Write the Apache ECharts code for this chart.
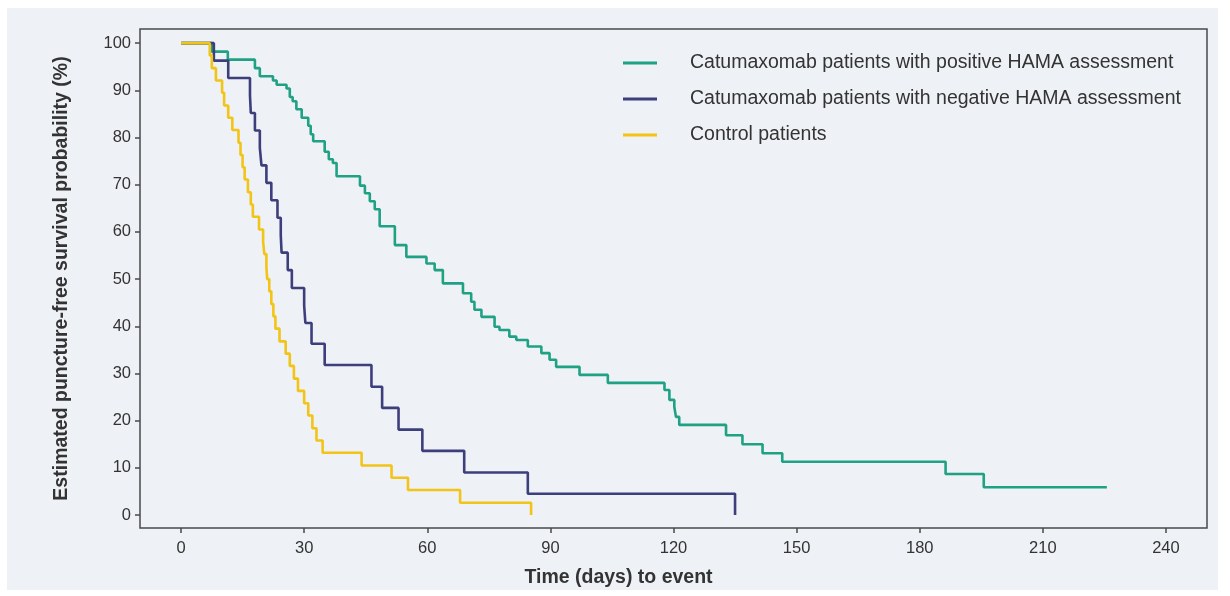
<!DOCTYPE html>
<html>
<head>
<meta charset="utf-8">
<script src="https://cdn.jsdelivr.net/npm/echarts@6/dist/echarts.min.js"></script>
<style>
  html, body { margin: 0; padding: 0; background: #ffffff; }
  #chart { width: 1230px; height: 596px; }
</style>
</head>
<body>
<div id="chart"></div>
<script>
// Kaplan–Meier step curves: each day is an event time, each value the survival (%) just after it.
const seriesNames = [
  'Catumaxomab patients with positive HAMA assessment',
  'Catumaxomab patients with negative HAMA assessment',
  'Control patients'
];

const positiveDays = [0, 7.5, 11.4, 18, 19.2, 22.4, 23.3, 25.7, 26.5, 27.2, 28.1, 29.4, 31, 31.6, 32.2, 35, 36, 37, 37.9,
  43.6, 44.8, 46, 47.2, 48.4, 52.1, 54.9, 59.8, 61.8, 63.8, 68.7, 70.7, 71.5, 73.2, 76.4, 77.6, 80, 81.7, 84.5,
  87.8, 89.8, 91.4, 97.1, 104, 117.8, 119, 120.2, 120.6, 121.4, 132.8, 136.8, 141.7, 146.5, 186.3, 195.6, 225.6];
const positiveSurv = [100, 98.2, 96.5, 94.7, 93.0, 92.1, 91.2, 90.4, 88.6, 87.7, 86.0, 84.2, 82.5, 80.7, 79.2, 77.0, 75.4, 74.6, 71.8,
  69.8, 68.2, 66.5, 64.8, 61.2, 57.2, 54.7, 53.3, 51.9, 49.1, 47.0, 45.2, 43.5, 42.0, 39.9, 39.2, 37.8, 37.1, 35.7,
  34.3, 32.9, 31.4, 29.7, 28.0, 26.5, 24.4, 22.9, 20.8, 19.1, 16.9, 15.0, 13.1, 11.3, 8.7, 5.9, 5.9];

const negativeDays = [0, 8, 11.5, 16.8, 17, 18, 19.2, 19.6, 20.8, 22, 23.5, 24.3, 24.5, 26, 27, 30, 30.3, 31.8, 35,
  46.4, 49, 53, 58.8, 69, 84.5, 135];
const negativeSurv = [100, 96.3, 92.6, 88.9, 85.2, 81.5, 77.8, 74.1, 70.4, 66.7, 63.0, 59.3, 55.6, 51.9, 48.1, 44.4, 40.7, 36.3, 31.8,
  27.2, 22.7, 18.1, 13.6, 9.0, 4.5, 0];

const controlDays = [0, 7, 7.5, 8.5, 10, 10.5, 11.5, 12.5, 14, 14.5, 15, 15.5, 16.3, 17, 17.5, 19, 20, 20.3, 20.8, 21,
  21.5, 22, 22.5, 23, 24, 25.5, 26.5, 27.5, 28.5, 30, 31, 32, 33, 34.5, 44, 51.3, 55.3, 68, 85.3];
const controlSurv = [100, 97.4, 94.7, 92.1, 89.5, 86.8, 84.2, 81.6, 78.9, 76.3, 73.7, 71.1, 68.4, 65.8, 63.2, 60.5, 57.9, 55.3, 52.6, 50.0,
  47.4, 44.7, 42.1, 39.5, 36.8, 34.2, 31.6, 28.9, 26.3, 23.7, 21.1, 18.4, 15.8, 13.2, 10.5, 7.9, 5.3, 2.6, 0];

const xTicks = [0, 30, 60, 90, 120, 150, 180, 210, 240];
const yTicks = [0, 10, 20, 30, 40, 50, 60, 70, 80, 90, 100];

const colors = ['#1fa184', '#3d3e7c', '#f2c417'];

const toPairs = (days, vals) => days.map((d, i) => [d, vals[i]]);
const curves = [
  toPairs(positiveDays, positiveSurv),
  toPairs(negativeDays, negativeSurv),
  toPairs(controlDays, controlSurv)
];

const font = 'Liberation Sans, Arial, Helvetica, sans-serif';
const frameColor = '#4a4a4a';
const chart = echarts.init(document.getElementById('chart'), null, { renderer: 'canvas' });

chart.setOption({
  animation: false,
  backgroundColor: '#ffffff',
  graphic: [{
    type: 'rect',
    z: -10,
    silent: true,
    shape: { x: 7, y: 8, width: 1211, height: 582 },
    style: { fill: '#eef1f5' }
  }],
  grid: {
    left: 140, right: 23, top: 29, bottom: 68,
    show: true,
    borderColor: frameColor,
    borderWidth: 1.5,
    backgroundColor: 'transparent'
  },
  legend: {
    orient: 'vertical',
    left: 618,
    top: 48,
    itemWidth: 34,
    itemHeight: 3,
    itemGap: 16,
    icon: 'rect',
    data: seriesNames,
    textStyle: { fontFamily: font, fontSize: 19.5, color: '#333333', padding: [0, 0, 0, 28] }
  },
  xAxis: {
    type: 'value',
    min: -10,
    max: 250,
    name: 'Time (days) to event',
    nameLocation: 'middle',
    nameGap: 40,
    // title sits left of the frame's centre, under the 90–120 day span
    nameTextStyle: { fontFamily: font, fontSize: 19.5, fontWeight: 'bold', color: '#333333', padding: [0, 110, 0, 0] },
    axisLine: { show: false, onZero: false },
    splitLine: { show: false },
    axisTick: { show: true, customValues: xTicks, length: 5, lineStyle: { color: frameColor, width: 1.5 } },
    axisLabel: { customValues: xTicks, fontFamily: font, fontSize: 16.5, color: '#333333', margin: 12 }
  },
  yAxis: {
    type: 'value',
    min: -2.75,
    max: 103,
    name: 'Estimated puncture-free survival probability (%)',
    nameLocation: 'middle',
    nameGap: 68,
    nameTextStyle: { fontFamily: font, fontSize: 19.5, fontWeight: 'bold', color: '#333333' },
    axisLine: { show: false, onZero: false },
    splitLine: { show: false },
    axisTick: { show: true, customValues: yTicks, length: 5, lineStyle: { color: frameColor, width: 1.5 } },
    axisLabel: { customValues: yTicks, fontFamily: font, fontSize: 16.5, color: '#333333', margin: 9 }
  },
  series: curves.map((data, i) => ({
    name: seriesNames[i],
    type: 'line',
    step: 'end',
    data: data,
    showSymbol: false,
    symbol: 'none',
    z: 2 + i,
    lineStyle: { color: colors[i], width: 2.6 },
    itemStyle: { color: colors[i] }
  }))
});
</script>
</body>
</html>
